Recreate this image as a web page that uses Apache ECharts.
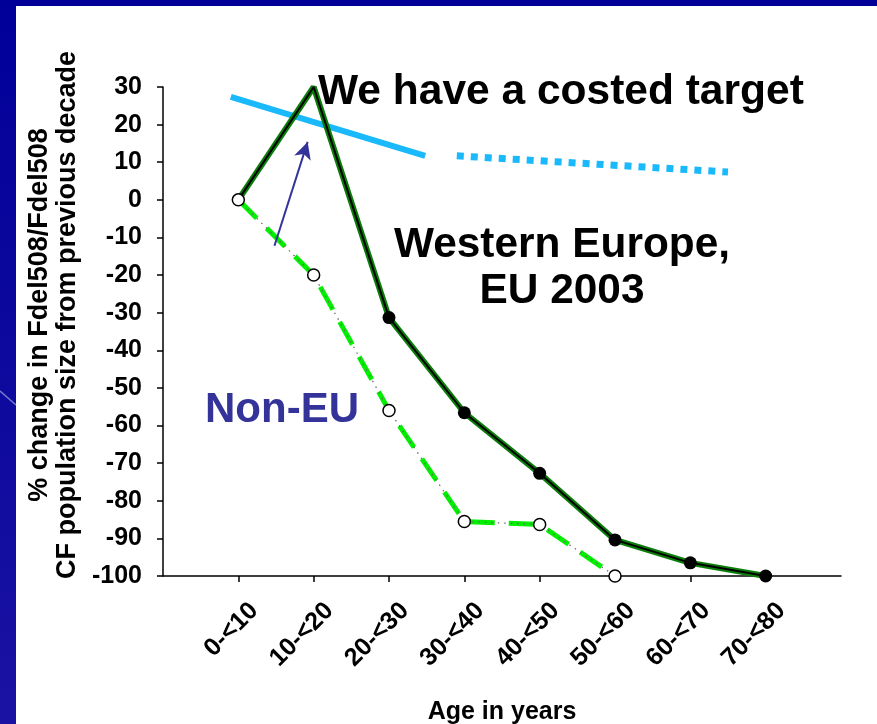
<!DOCTYPE html>
<html>
<head>
<meta charset="utf-8">
<script src="https://cdn.jsdelivr.net/npm/echarts@6/dist/echarts.min.js"></script>
<style>
  html, body { margin: 0; padding: 0; background: #ffffff; }
  #chart { width: 877px; height: 724px; }
</style>
</head>
<body>
<div id="chart"></div>
<script>
// Age bands on the horizontal axis
const ageGroups = ['0-<10', '10-<20', '20-<30', '30-<40', '40-<50', '50-<60', '60-<70', '70-<80'];
// % change in Fdel508/Fdel508 CF population size from previous decade
const westernEurope = [0, 30, -31.3, -56.6, -72.7, -90.4, -96.5, -100];
const nonEU = [0, -20, -56, -85.5, -86.3, -100];
// Vertical scale
const yMin = -100;
const yMax = 30;
const yStep = 10;
// Costed target line (x in age-band index units, y in %)
const targetSolid = [[-0.1, 27.4], [2.48, 11.7]];
const targetDotted = [[2.9, 11.7], [6.5, 7.4]];
// Arrow from the non-EU curve up to the target
const arrowFrom = [0.48, -12.2];
const arrowTo = [0.92, 15.4];

const FONT = '"Liberation Sans", Arial, sans-serif';
// padded category list so the first band sits one step in from the y axis
const axisCats = [''].concat(ageGroups, ['']);
const isBand = (i, v) => v !== '';

const euData = westernEurope.map((v, i) => ({
  value: [ageGroups[i], v],
  symbol: i < 2 ? 'none' : 'circle'
}));
const nonEuData = nonEU.map((v, i) => [ageGroups[i], v]);

const chart = echarts.init(document.getElementById('chart'), null, { renderer: 'canvas' });

chart.setOption({
  backgroundColor: '#ffffff',
  animation: false,
  grid: { left: 163, right: 36, top: 87, bottom: 148, containLabel: false, outerBoundsMode: 'none' },
  xAxis: [
    {
      type: 'category',
      data: axisCats,
      boundaryGap: false,
      name: 'Age in years',
      nameLocation: 'middle',
      nameGap: 124,
      nameTextStyle: { fontFamily: FONT, fontWeight: 'bold', fontSize: 25, color: '#000' },
      axisLine: { onZero: false, lineStyle: { color: '#000', width: 1.5 } },
      axisTick: { interval: isBand, length: 6, lineStyle: { color: '#000', width: 1.5 } },
      axisLabel: {
        interval: isBand, rotate: 45, margin: 15,
        verticalAlign: 'top', lineHeight: 45,
        fontFamily: FONT, fontWeight: 'bold', fontSize: 25, color: '#000'
      },
      splitLine: { show: false }
    },
    { type: 'value', min: -1, max: 8, show: false }
  ],
  yAxis: {
    type: 'value',
    min: yMin, max: yMax, interval: yStep,
    axisLine: { show: true, onZero: false, lineStyle: { color: '#000', width: 1.5 } },
    axisTick: { show: true, length: 6, lineStyle: { color: '#000', width: 1.5 } },
    axisLabel: { margin: 21, fontFamily: FONT, fontWeight: 'bold', fontSize: 25, color: '#000' },
    splitLine: { show: false }
  },
  series: [
    // target: solid part
    {
      type: 'line', xAxisIndex: 1, data: targetSolid, symbol: 'none', z: 1,
      lineStyle: { color: '#19b9fb', width: 6, cap: 'butt' }
    },
    // target: dotted continuation
    {
      type: 'line', xAxisIndex: 1, data: targetDotted, symbol: 'none', z: 1,
      lineStyle: { color: '#19b9fb', width: 7, type: [7, 7], cap: 'butt' }
    },
    // Western Europe: green casing
    {
      type: 'line', data: euData.map(d => d.value), symbol: 'none', z: 2,
      lineStyle: { color: '#0b7d0b', width: 6 }
    },
    // Western Europe: black core with markers
    {
      type: 'line', data: euData, symbol: 'circle', symbolSize: 13, z: 3,
      lineStyle: { color: '#000', width: 2 },
      itemStyle: { color: '#000' }
    },
    // non-EU: bright green dashes
    {
      type: 'line', data: nonEuData, symbol: 'none', z: 4,
      lineStyle: { color: '#00f000', width: 5, type: [26, 14], cap: 'butt' }
    },
    // non-EU: grey dotted core with open markers
    {
      type: 'line', data: nonEuData, symbol: 'circle', symbolSize: 12, z: 5,
      lineStyle: { color: '#666', width: 1.2, type: [1.5, 5] },
      itemStyle: { color: '#fff', borderColor: '#000', borderWidth: 1.5 }
    },
    // arrow
    {
      type: 'line', xAxisIndex: 1, data: [], z: 6,
      markLine: {
        silent: true,
        symbol: ['none', 'arrow'],
        symbolSize: [13, 17],
        label: { show: false },
        lineStyle: { color: '#333399', width: 2, type: 'solid' },
        data: [[{ coord: arrowFrom }, { coord: arrowTo }]]
      }
    }
  ],
  graphic: [
    // slide frame
    { type: 'rect', left: 0, top: 0, shape: { width: 877, height: 6 }, style: { fill: '#000099' }, z: 10 },
    {
      type: 'rect', left: 0, top: 0, shape: { width: 16, height: 724 }, z: 10,
      style: {
        fill: new echarts.graphic.LinearGradient(0, 0, 0, 1, [
          { offset: 0, color: '#000099' },
          { offset: 1, color: '#1a12a2' }
        ])
      }
    },
    { type: 'line', shape: { x1: 0, y1: 391, x2: 16, y2: 405 }, style: { stroke: 'rgba(170,170,225,0.7)', lineWidth: 1.5 }, z: 11 },
    // y-axis title
    {
      type: 'text', x: 54, y: 315, rotation: Math.PI / 2, z: 12,
      style: {
        text: '% change in Fdel508/Fdel508\nCF population size from previous decade',
        fontFamily: FONT, fontWeight: 'bold', fontSize: 27, lineHeight: 28,
        fill: '#000', align: 'center', verticalAlign: 'middle'
      }
    },
    {
      type: 'text', x: 318, y: 92, z: 12,
      style: {
        text: 'We have a costed target', fontFamily: FONT, fontWeight: 'bold', fontSize: 42.5,
        fill: '#000', align: 'left', verticalAlign: 'middle'
      }
    },
    {
      type: 'text', x: 562, y: 268, z: 12,
      style: {
        text: 'Western Europe,\nEU 2003', fontFamily: FONT, fontWeight: 'bold', fontSize: 42.4,
        lineHeight: 46, fill: '#000', align: 'center', verticalAlign: 'middle'
      }
    },
    {
      type: 'text', x: 205, y: 410, z: 12,
      style: {
        text: 'Non-EU', fontFamily: FONT, fontWeight: 'bold', fontSize: 42,
        fill: '#333399', align: 'left', verticalAlign: 'middle'
      }
    }
  ]
});
</script>
</body>
</html>
